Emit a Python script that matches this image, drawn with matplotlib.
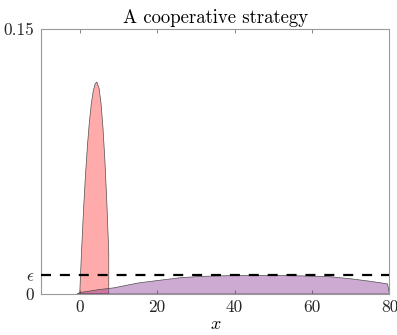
import matplotlib
matplotlib.use("Agg")
import matplotlib.pyplot as plt

plt.rcParams['font.family'] = 'serif'
plt.rcParams['font.serif'] = ['cmr10']
plt.rcParams['mathtext.fontset'] = 'cm'
plt.rcParams['axes.formatter.use_mathtext'] = True

# Red (first) density curve
red_x = [0, 0.25, 0.5, 1, 1.5, 2, 2.5, 3, 3.5, 4, 4.4, 5, 5.5, 6, 6.5, 7, 7.5, 7.5]
red_y = [0, 0.0132, 0.0257, 0.0484, 0.0679, 0.0843, 0.0976, 0.1078, 0.115, 0.119,
         0.120, 0.1164, 0.1078, 0.0942, 0.0755, 0.0518, 0.0233, 0.0]

# Purple (second) density curve
pur_x = [-0.7, 0, 5, 8.9, 15, 20, 26, 30, 34.5, 40, 45, 50, 54, 60, 64.6, 70, 75, 77.5, 79.5, 80]
pur_y = [0, 0.0008, 0.0025, 0.0035, 0.0062, 0.0076, 0.0092, 0.0098, 0.0102, 0.0104,
         0.0105, 0.0105, 0.0104, 0.0101, 0.0098, 0.0086, 0.0072, 0.0064, 0.0057, 0.0]

epsilon = 0.0106
x_ticks = [0, 20, 40, 60, 80]
y_ticks = [0, epsilon, 0.15]
y_tick_labels = ['0', r'$\epsilon$', '0.15']

fig = plt.figure(figsize=(3.97, 3.35), dpi=100)
ax = fig.add_axes([0.1033, 0.1224, 0.8778, 0.791])

edge = (0.3, 0.3, 0.3)
ax.fill(red_x + [red_x[0]], red_y + [0], facecolor=(1.0, 0.0, 0.0, 0.33),
        edgecolor=edge, linewidth=0.5, zorder=2)
ax.fill(pur_x + [pur_x[0]], pur_y + [0], facecolor=(0.51, 0.17, 0.56, 0.4),
        edgecolor=edge, linewidth=0.5, zorder=3)

ax.axhline(epsilon, color='black', linewidth=1.6, dashes=(4.5, 4.0), zorder=4)

ax.set_xlim(-10, 80)
ax.set_ylim(0, 0.15)
ax.set_xticks(x_ticks)
ax.set_xticklabels([str(t) for t in x_ticks])
ax.set_yticks(y_ticks)
ax.set_yticklabels(y_tick_labels)

for s in ax.spines.values():
    s.set_color((0.6, 0.6, 0.6))
    s.set_linewidth(0.8)
ax.tick_params(direction='in', length=3, width=0.6, color=(0.45, 0.45, 0.45),
               labelsize=12.5, labelcolor=(0.15, 0.15, 0.15), top=True, right=False, pad=4)
ax.tick_params(axis='y', pad=5)

ax.set_title('A cooperative strategy', fontsize=13.5, pad=4)
ax.set_xlabel('$x$', fontsize=13, labelpad=1)

fig.savefig('out.png', dpi=100)
